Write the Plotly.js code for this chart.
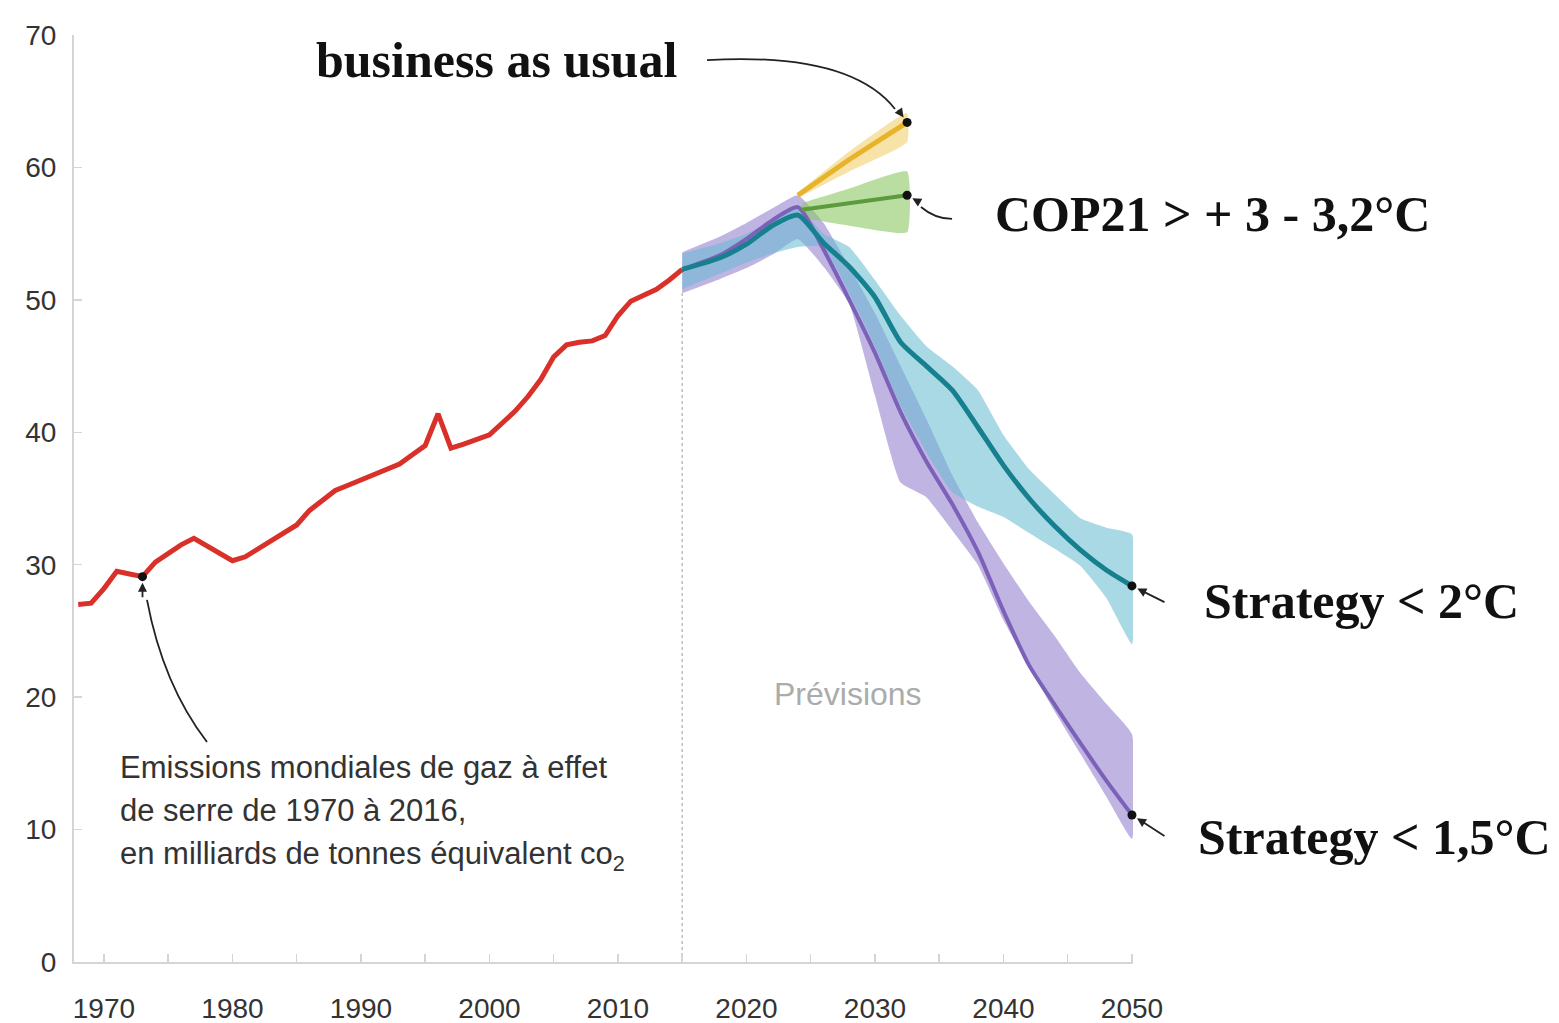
<!DOCTYPE html>
<html><head><meta charset="utf-8">
<script src="https://cdn.plot.ly/plotly-3.0.1.min.js"></script>
<style>html,body{margin:0;padding:0;background:#fff}#chart{width:1559px;height:1023px}</style>
</head><body><div id="chart"></div>
<script>
// Historical emissions (Gt CO2eq)
const histYears = [1968,1969,1970,1971,1972,1973,1974,1975,1976,1977,1978,1979,1980,1981,1982,1983,1984,1985,1986,1987,1988,1989,1990,1991,1992,1993,1994,1995,1996,1997,1998,1999,2000,2001,2002,2003,2004,2005,2006,2007,2008,2009,2010,2011,2012,2013,2014,2015];
const histVals  = [27.0,27.1,28.2,29.5,29.3,29.1,30.2,30.9,31.5,32.0,31.4,30.8,30.3,30.6,31.2,31.8,32.4,33.0,34.1,34.8,35.6,36.0,36.4,36.8,37.1,37.6,38.3,39.0,41.4,38.8,39.1,39.5,39.8,40.7,41.6,42.7,44.0,45.7,46.6,46.8,46.9,47.3,48.8,49.9,50.4,50.8,51.5,52.3];
const forecastStart = 2015;

// Scenario years (2 °C and 1.5 °C)
const scenYears = [2015,2018,2020,2022,2024,2026,2028,2030,2032,2034,2036,2038,2040,2042,2044,2046,2048,2050];
const s2Vals  = [52.3,53.2,54.2,55.6,56.4,54.3,52.5,50.2,46.8,45.0,43.2,40.4,37.5,35.0,32.9,31.1,29.6,28.4];
const s2Upper = [53.5,54.3,55.0,56.0,57.0,55.0,54.0,51.5,48.8,46.5,45.0,43.2,39.8,37.2,35.3,33.5,32.8,32.3];
const s2Lower = [50.8,52.0,52.8,53.5,54.0,54.0,50.5,46.5,42.0,38.5,35.5,34.4,33.6,32.4,31.2,29.9,27.5,24.0];
const s15Vals  = [52.3,53.4,54.6,56.0,57.0,53.8,50.0,46.0,41.5,37.8,34.6,31.0,26.5,22.4,19.4,16.5,13.7,11.1];
const s15Upper = [53.6,54.8,55.8,56.9,57.9,55.8,52.5,49.0,45.0,41.0,36.8,33.2,30.1,27.2,24.6,21.8,19.5,17.2];
const s15Lower = [50.5,51.6,52.4,53.4,54.6,52.5,49.7,42.8,36.2,35.1,32.6,30.0,25.8,22.3,18.9,15.7,12.5,9.3];

// Business as usual
const bauYears = [2024,2028,2032.5];
const bauVals  = [57.9,60.6,63.4];
const bauUpper = [58.1,61.2,64.1];
const bauLower = [57.7,59.7,61.9];

// COP21 pledges
const copYears = [2024.3,2028,2032.5];
const copVals  = [56.8,57.3,57.9];
const copUpper = [57.3,58.4,59.7];
const copLower = [56.2,55.6,55.1];

const xTickVals = [1970,1980,1990,2000,2010,2020,2030,2040,2050];
const xMinorVals = [1975,1985,1995,2005,2015,2025,2035,2045];
const yTickVals = [0,10,20,30,40,50,60,70];

function band(xs, lo, hi, color){
  return {x: xs.concat(xs.slice().reverse()), y: hi.concat(lo.slice().reverse()),
    type:'scatter', mode:'lines', fill:'toself', fillcolor: color,
    line:{width:0, shape:'spline', smoothing:0.4}, hoverinfo:'skip', showlegend:false};
}
function line(xs, ys, color, w, shape){
  return {x: xs, y: ys, type:'scatter', mode:'lines',
    line:{color: color, width: w, shape: shape||'linear', smoothing:0.6}, showlegend:false};
}

const traces = [
  band(scenYears, s15Lower, s15Upper, 'rgba(130,105,200,0.5)'),
  band(scenYears, s2Lower, s2Upper, 'rgba(100,185,210,0.55)'),
  band(copYears, copLower, copUpper, 'rgba(140,200,100,0.6)'),
  band(bauYears, bauLower, bauUpper, 'rgba(240,200,80,0.5)'),
  line(histYears, histVals, '#d9302a', 5),
  line(scenYears, s15Vals, '#7b62b8', 4, 'spline'),
  line(scenYears, s2Vals, '#17808f', 5, 'spline'),
  line(copYears, copVals, '#5c9a3c', 4),
  line(bauYears, bauVals, '#e6b32a', 5),
  {x:[histYears[5], bauYears[bauYears.length-1], copYears[copYears.length-1], scenYears[scenYears.length-1], scenYears[scenYears.length-1]],
   y:[histVals[5], bauVals[bauVals.length-1], copVals[copVals.length-1], s2Vals[s2Vals.length-1], s15Vals[s15Vals.length-1]],
   type:'scatter', mode:'markers', marker:{color:'#111', size:9}, showlegend:false, cliponaxis:false}
];

const serif = 'Liberation Serif, Times New Roman, serif';
const sans = 'Liberation Sans, Arial, sans-serif';
function label(text, x, y, size){
  return {text:'<b>'+text+'</b>', xref:'paper', yref:'paper', x:x, y:y, xanchor:'center', yanchor:'middle',
    showarrow:false, font:{family:serif, size:size||50, color:'#111'}};
}
function head(x, y, ax, ay){
  return {x:x, y:y, xref:'x', yref:'y', ax:ax, ay:ay, text:'', showarrow:true,
    arrowhead:2, arrowsize:1, arrowwidth:1.8, arrowcolor:'#222', standoff:6};
}

const layout = {
  width:1559, height:1023,
  margin:{l:74, r:426, t:35, b:61},
  paper_bgcolor:'#fff', plot_bgcolor:'#fff',
  xaxis:{range:[1967.67, 2050.08], showline:true, linecolor:'#d5d5d5', linewidth:2,
    ticks:'inside', ticklen:8, tickwidth:1.5, tickcolor:'#d5d5d5',
    tickvals:xTickVals, showgrid:false, zeroline:false,
    minor:{tickvals:xMinorVals, ticks:'inside', ticklen:8, tickwidth:1.5, tickcolor:'#d5d5d5', showgrid:false},
    tickfont:{family:sans, size:28, color:'#333'}, ticklabelstandoff:20},
  yaxis:{range:[0,70], showline:true, linecolor:'#d5d5d5', linewidth:2,
    ticks:'inside', ticklen:8, tickwidth:1.5, tickcolor:'#d5d5d5',
    tickvals:yTickVals, showgrid:false, zeroline:false,
    tickfont:{family:sans, size:28, color:'#333'}, ticklabelstandoff:10},
  shapes:[
    {type:'line', xref:'x', yref:'y', x0:forecastStart, x1:forecastStart, y0:0, y1:50.5,
     line:{color:'#bdbdbd', width:1.5, dash:'dot'}, layer:'below'},
    {type:'path', xref:'x', yref:'y', path:'M 2016.93,68.11 Q 2028.06,68.72 2031.56,64.41', line:{color:'#222', width:1.8}},
    {type:'path', xref:'x', yref:'y', path:'M 2036.0,56.11 Q 2034.67,56.11 2033.58,57.01', line:{color:'#222', width:1.8}},
    {type:'path', xref:'x', yref:'y', path:'M 1978.02,16.61 Q 1974.60,20.92 1973.35,27.34', line:{color:'#222', width:1.8}}
  ],
  annotations:[
    label('business as usual', 0.3994, 0.973),
    label('COP21 &gt; + 3 - 3,2°C', 1.0746, 0.807),
    label('Strategy &lt; 2°C', 1.2162, 0.3894),
    label('Strategy &lt; 1,5°C', 1.2276, 0.1348),
    {text:'Prévisions', xref:'paper', yref:'paper', x:0.7309, y:0.2891, xanchor:'center', yanchor:'middle',
     showarrow:false, font:{family:sans, size:32, color:'#ababab'}},
    {text:'Emissions mondiales de gaz à effet', xref:'paper', yref:'paper', x:0.0415, y:0.2093, xanchor:'left', yanchor:'middle',
     showarrow:false, font:{family:sans, size:31, color:'#333'}},
    {text:'de serre de 1970 à 2016,', xref:'paper', yref:'paper', x:0.0415, y:0.1629, xanchor:'left', yanchor:'middle',
     showarrow:false, font:{family:sans, size:31, color:'#333'}},
    {text:'en milliards de tonnes équivalent co<sub>2</sub>', xref:'paper', yref:'paper', x:0.0415, y:0.1143, xanchor:'left', yanchor:'middle',
     showarrow:false, font:{family:sans, size:31, color:'#333'}},
    head(bauYears[bauYears.length-1], bauVals[bauVals.length-1], -10, -14),
    head(copYears[copYears.length-1], copVals[copVals.length-1], 14, 8),
    head(scenYears[scenYears.length-1], s2Vals[s2Vals.length-1], 34, 17),
    head(scenYears[scenYears.length-1], s15Vals[s15Vals.length-1], 34, 22),
    head(histYears[5], histVals[5], 0, 22)
  ]
};

Plotly.newPlot('chart', traces, layout, {displayModeBar:false, staticPlot:true});
</script></body></html>
